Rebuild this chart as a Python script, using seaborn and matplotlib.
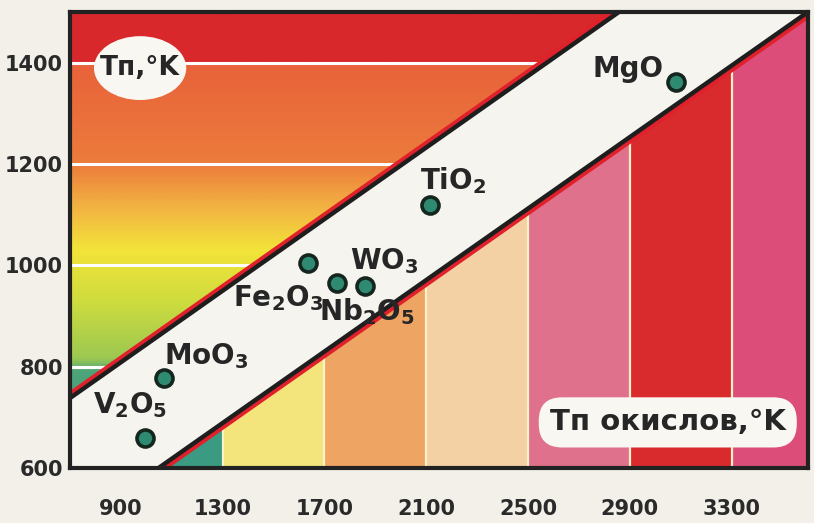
import numpy as np
import pandas as pd
import matplotlib
matplotlib.use("Agg")
import matplotlib.pyplot as plt
import matplotlib.patheffects as pe
from matplotlib.patches import Polygon, Ellipse
from matplotlib.colors import LinearSegmentedColormap
import seaborn as sns

# --- data ---
oxides = ["V$_2$O$_5$", "MoO$_3$", "Fe$_2$O$_3$", "Nb$_2$O$_5$", "WO$_3$", "TiO$_2$", "MgO"]
t_oxide = [995, 1070, 1635, 1750, 1860, 2115, 3080]   # melting point of oxide, K
t_n = [660, 777, 1005, 965, 960, 1120, 1362]          # Tn, K

x_ticks = [900, 1300, 1700, 2100, 2500, 2900, 3300]
y_ticks = [600, 800, 1000, 1200, 1400]

# two parallel boundary lines (end points)
upper_x = [700, 2857]
upper_y = [738, 1500]
lower_x = [1048, 3600]
lower_y = [600, 1500]

# vertical colour bands under the lower line
band_edges = [700, 1300, 1700, 2100, 2500, 2900, 3300, 3600]
band_colors = ["#3a9a82", "#f4e47c", "#eea463", "#f3d1a4", "#e0718c", "#d92a2e", "#dc4d7a"]

XMIN, XMAX, YMIN, YMAX = 700, 3600, 600, 1500

sns.set_style("white")
plt.rcParams["font.family"] = ["DejaVu Sans"]
plt.rcParams["mathtext.fontset"] = "custom"
plt.rcParams["mathtext.rm"] = "DejaVu Sans:bold"
plt.rcParams["mathtext.it"] = "DejaVu Sans:bold"
plt.rcParams["mathtext.bf"] = "DejaVu Sans:bold"
INK = "#262626"

fig = plt.figure(figsize=(8.14, 5.23), dpi=100, facecolor="#f2f0e9")
ax = fig.add_axes([70 / 814, 55 / 523, 738 / 814, 456 / 523])
ax.set_facecolor("#f6f4ee")
ax.set_xlim(XMIN, XMAX)
ax.set_ylim(YMIN, YMAX)

# region above upper line: horizontal gradient bands
up_poly = Polygon([(XMIN, upper_y[0]), (upper_x[1], YMAX), (XMIN, YMAX)],
                  closed=True, transform=ax.transData, fc="none", ec="none")
ax.add_patch(up_poly)
stops = [(600, "#3b9a84"), (790, "#4ea47a"), (815, "#9cc852"), (930, "#cfdc3e"),
         (1030, "#f3e43a"), (1120, "#f2b042"), (1200, "#ec7c3c"), (1400, "#e8623a"),
         (1401, "#d9282b"), (1500, "#d9282b")]
cmap = LinearSegmentedColormap.from_list(
    "tn", [((v - YMIN) / (YMAX - YMIN), c) for v, c in stops])
grad = np.linspace(0, 1, 400).reshape(-1, 1)
im = ax.imshow(grad, cmap=cmap, aspect="auto", origin="lower",
               extent=[XMIN, XMAX, YMIN, YMAX], zorder=1)
im.set_clip_path(up_poly)
for yv in [800, 1000, 1200, 1400]:
    ln = ax.axhline(yv, color="white", lw=2.2, zorder=2)
    ln.set_clip_path(up_poly)

# region below lower line: vertical bands
lo_poly = Polygon([(lower_x[0], YMIN), (XMAX, YMAX), (XMAX, YMIN)],
                  closed=True, transform=ax.transData, fc="none", ec="none")
ax.add_patch(lo_poly)
for i, col in enumerate(band_colors):
    sp = ax.axvspan(band_edges[i], band_edges[i + 1], color=col, lw=0, zorder=1)
    sp.set_clip_path(lo_poly)
for xv in band_edges[1:-1]:
    ln = ax.axvline(xv, color="#fbf3c8", lw=1.6, zorder=2)
    ln.set_clip_path(lo_poly)

# boundary lines with a red offset edge
ax.plot(upper_x, upper_y, color="#1e1e1e", lw=3.2, zorder=3,
        path_effects=[pe.SimpleLineShadow(offset=(-1, 2.5), shadow_color="#e0202a", alpha=1, rho=1),
                      pe.Normal()])
ax.plot(lower_x, lower_y, color="#1e1e1e", lw=3.2, zorder=3,
        path_effects=[pe.SimpleLineShadow(offset=(1, -2.5), shadow_color="#e0202a", alpha=1, rho=1),
                      pe.Normal()])

# oxide points
df = pd.DataFrame({"oxide": oxides, "t_oxide": t_oxide, "t_n": t_n})
sns.scatterplot(data=df, x="t_oxide", y="t_n", ax=ax, s=150, color="#2f8a72",
                edgecolor="#15261f", linewidth=2.6, zorder=5, legend=False)

label_offsets = [(-15, 32), (42, 22), (-30, -35), (30, -29), (19, 24), (23, 24), (-48, 13)]
for name, xv, yv, off in zip(oxides, t_oxide, t_n, label_offsets):
    ax.annotate(name, (xv, yv), xytext=off, textcoords="offset pixels",
                ha="center", va="center", fontsize=20, fontweight="bold",
                color=INK, zorder=6)

# axis captions
ax.add_patch(Ellipse((0.095, 0.877), 0.125, 0.14, transform=ax.transAxes,
                     fc="#f8f7f2", ec="none", zorder=6))
ax.text(0.095, 0.877, "Tп,°K", transform=ax.transAxes, ha="center", va="center",
        fontsize=19, fontweight="bold", color=INK, zorder=7)
ax.text(0.81, 0.10, "Tп окислов,°K", transform=ax.transAxes, ha="center", va="center",
        fontsize=21, fontweight="bold", color=INK, zorder=7,
        bbox=dict(boxstyle="round,pad=0.38,rounding_size=0.8", fc="#f8f7f2", ec="none"))

# axes, ticks
ax.set_xticks(x_ticks)
ax.set_yticks(y_ticks)
ax.set_xticklabels([str(v) for v in x_ticks])
ax.set_yticklabels([str(v) for v in y_ticks])
ax.tick_params(axis="both", length=0, labelsize=15, colors="#2a2a2a")
ax.tick_params(axis="x", pad=22)
ax.tick_params(axis="y", pad=5)
for lab in ax.get_xticklabels() + ax.get_yticklabels():
    lab.set_fontweight("bold")
ax.set_xlabel("")
ax.set_ylabel("")
for s in ax.spines.values():
    s.set_visible(True)
    s.set_color("#222222")
    s.set_linewidth(3)
    s.set_zorder(8)

fig.savefig("out.png", dpi=100, facecolor=fig.get_facecolor())
